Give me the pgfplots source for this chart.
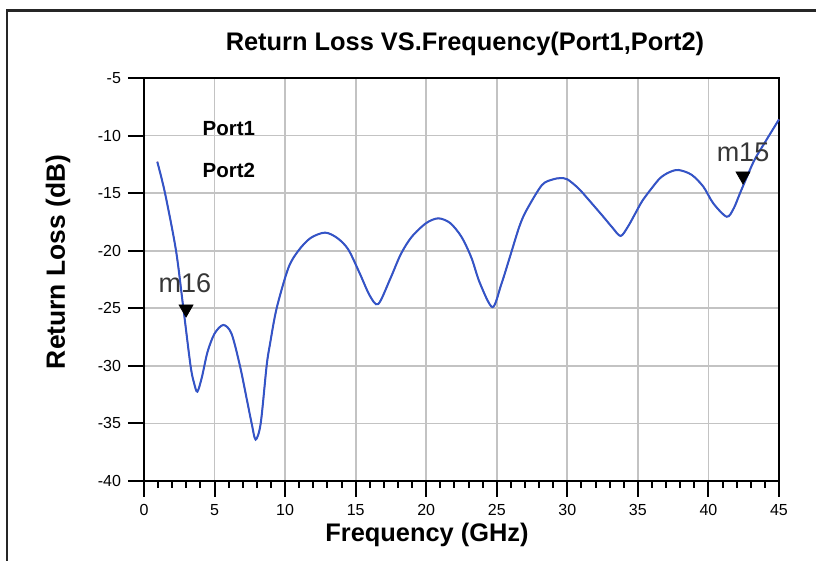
\documentclass[border=0pt]{standalone}
\usepackage{fontspec}
\setmainfont{Liberation Sans}
\usepackage{pgfplots}
\pgfplotsset{compat=1.18}
\definecolor{curveblue}{RGB}{50,85,200}
\definecolor{curvered}{RGB}{240,40,60}
\definecolor{gridgray}{RGB}{195,195,195}
\definecolor{mklabel}{RGB}{55,55,55}
\pgfplotstableread{
x y
0.94 -12.27
1.49 -15.0
2.27 -20.0
2.79 -25.0
3.3 -30.0
3.55 -31.5
3.78 -32.24
4.1 -31.0
4.5 -28.8
5.0 -27.2
5.62 -26.45
6.2 -27.2
6.8 -30.0
7.3 -33.0
7.63 -35.0
7.91 -36.4
8.27 -35.0
8.69 -30.0
8.93 -28.1
9.4 -25.0
10.23 -21.5
10.94 -20.0
11.8 -18.9
12.83 -18.43
13.7 -18.9
14.48 -19.9
15.3 -22.0
16.0 -23.9
16.6 -24.63
17.43 -22.5
18.2 -20.3
18.97 -18.8
20.0 -17.6
20.86 -17.19
21.7 -17.6
22.5 -18.8
23.2 -20.6
23.8 -22.8
24.69 -24.9
25.3 -23.0
25.94 -20.5
26.6 -17.9
27.1 -16.5
28.2 -14.3
29.0 -13.8
29.5 -13.7
30.0 -13.8
30.8 -14.6
31.6 -15.7
32.55 -17.05
33.2 -18.0
33.78 -18.72
34.3 -17.9
34.8 -16.8
35.3 -15.7
35.9 -14.7
36.57 -13.7
37.2 -13.2
37.87 -12.99
38.8 -13.4
39.64 -14.44
40.35 -15.9
41.3 -17.05
41.8 -16.3
42.24 -15.0
43.2 -12.27
44.0 -10.6
45.0 -8.6
}\rldata
\begin{document}
\begin{tikzpicture}
\path[use as bounding box] (-72pt,-40pt) rectangle (336pt,240.5pt);
\draw[line width=1.3pt, black!85] (-68.5pt,-41pt) -- (-68.5pt,235.25pt) -- (337pt,235.25pt);
\begin{axis}[
  at={(0pt,0pt)}, anchor=south west,
  scale only axis, width=317.5pt, height=201.5pt,
  xmin=0, xmax=45, ymin=-40, ymax=-5,
  xtick={0,5,...,45}, ytick={-40,-35,...,-5},
  minor x tick num=4,
  tick align=outside, xtick pos=left, ytick pos=left,
  major tick length=8pt, minor tick length=3.5pt,
  every tick/.style={black, line width=1pt},
  grid=major, major grid style={gridgray, line width=0.9pt},
  axis line style={black, line width=1.2pt},
  tick label style={font=\fontsize{8}{9}\selectfont},
  /pgf/number format/assume math mode=true,
  clip=false,
]
\addplot[curvered, line width=0.6pt, smooth, tension=0.5] table[x=x,y=y] {\rldata};
\addplot[curveblue, line width=1pt, smooth, tension=0.5] table[x=x,y=y] {\rldata};
\addplot[only marks, mark=triangle*, mark size=4pt, mark options={rotate=180, fill=black, draw=black}] coordinates {(2.98,-25.06) (42.45,-13.51)};
\node[font=\fontsize{10.25}{12}\bfseries\selectfont] at (axis cs:6.02,-9.35) {Port1};
\node[font=\fontsize{10.25}{12}\bfseries\selectfont] at (axis cs:6.02,-12.99) {Port2};
\node[font=\fontsize{13.5}{15}\selectfont, text=mklabel] at (axis cs:2.9,-22.8) {m16};
\node[font=\fontsize{13.5}{15}\selectfont, text=mklabel] at (axis cs:42.45,-11.5) {m15};
\end{axis}
\node[font=\fontsize{12.7}{14}\bfseries\selectfont] at (160.5pt,218.5pt) {Return Loss VS.Frequency(Port1,Port2)};
\node[font=\fontsize{12.7}{14}\bfseries\selectfont] at (141.5pt,-27pt) {Frequency (GHz)};
\node[font=\fontsize{13.2}{15}\bfseries\selectfont, rotate=90] at (-43pt,109.5pt) {Return Loss (dB)};
\end{tikzpicture}
\end{document}
